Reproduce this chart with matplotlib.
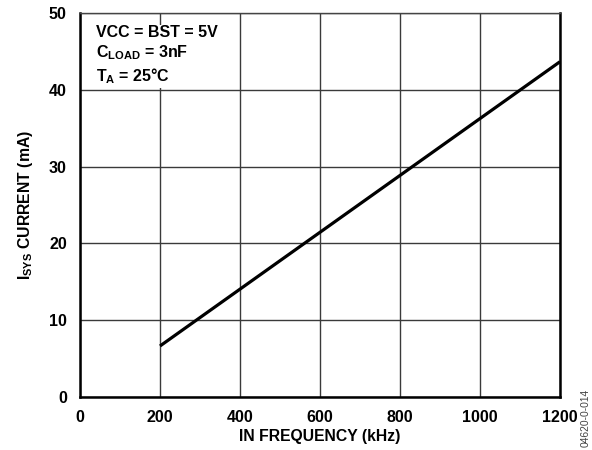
import matplotlib
matplotlib.use("Agg")
import matplotlib.pyplot as plt

freq_khz = [200, 1200]
isys_ma = [6.64, 43.66]
x_ticks = [0, 200, 400, 600, 800, 1000, 1200]
y_ticks = [0, 10, 20, 30, 40, 50]

plt.rcParams['font.family'] = ['Liberation Sans', 'DejaVu Sans']
plt.rcParams['font.weight'] = 'bold'
plt.rcParams['mathtext.fontset'] = 'custom'
plt.rcParams['mathtext.rm'] = 'Liberation Sans:bold'
plt.rcParams['mathtext.it'] = 'Liberation Sans:bold'
plt.rcParams['mathtext.bf'] = 'Liberation Sans:bold'

fig = plt.figure(figsize=(5.92, 4.5), dpi=100)
ax = fig.add_axes([80/592, 53/450, (560-80)/592, (397-13)/450])

ax.plot(freq_khz, isys_ma, color='black', lw=2.3, solid_capstyle='butt', zorder=3)
ax.set_xlim(0, 1200)
ax.set_ylim(0, 50)
ax.set_xticks(x_ticks)
ax.set_yticks(y_ticks)
ax.grid(True, color='#3a3a3a', lw=1.0)
ax.tick_params(length=0, labelsize=11.5, pad=9.5)
for lab in ax.get_xticklabels() + ax.get_yticklabels():
    lab.set_fontweight('bold')
for s in ['left', 'bottom', 'right']:
    ax.spines[s].set_linewidth(1.8)
ax.spines['top'].set_linewidth(1.0)
ax.spines['top'].set_color('#444444')

ax.set_xlabel('IN FREQUENCY (kHz)', fontsize=11.3, fontweight='bold', labelpad=2.5)
ax.set_ylabel(r'I$_{\mathregular{SYS}}$ CURRENT (mA)', fontsize=11.3, fontweight='bold', labelpad=10)

ax.text(40, 48.4, 'VCC = BST = 5V\n' + r'C$_{\mathregular{LOAD}}$ = 3nF' + '\n' + r'T$_{\mathregular{A}}$ = 25°C',
        fontsize=11.5, fontweight='bold', va='top', ha='left', linespacing=1.25,
        bbox=dict(facecolor='white', edgecolor='none', pad=1.5), zorder=4)

fig.text(0.989, 0.007, '04620-0-014', rotation=90, fontsize=7.4, color='#444444',
         ha='center', va='bottom', fontweight='normal')

fig.savefig('out.png', dpi=100)
